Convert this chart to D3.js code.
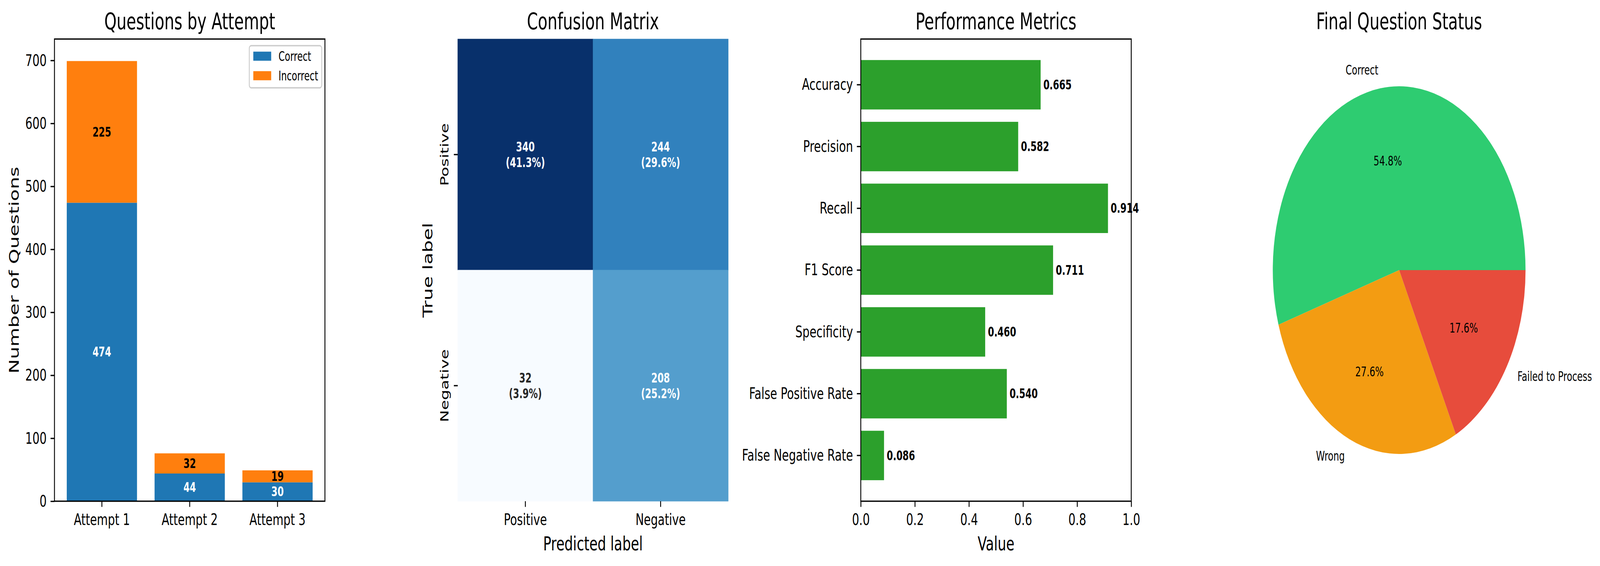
<!DOCTYPE html>
<html>
<head>
<meta charset="utf-8">
<script src="https://cdn.jsdelivr.net/npm/d3@7"></script>
<style>
  html, body { margin: 0; padding: 0; background: #fff; overflow: hidden; }
  svg { display: block; font-family: "DejaVu Sans", sans-serif; width: 100vw; height: 100vh; }
</style>
</head>
<body>
<svg id="chart" viewBox="0 0 5963 1450" preserveAspectRatio="none"></svg>
<script>
// ---------------- DATA ----------------
const attempts = ["Attempt 1", "Attempt 2", "Attempt 3"];
const correctCounts = [474, 44, 30];
const incorrectCounts = [225, 32, 19];
const barYTicks = [0, 100, 200, 300, 400, 500, 600, 700];
const seriesNames = ["Correct", "Incorrect"];

const cmLabels = ["Positive", "Negative"];
const cmRowPositive = [340, 244];
const cmRowNegative = [32, 208];

const metricNames = ["Accuracy", "Precision", "Recall", "F1 Score", "Specificity", "False Positive Rate", "False Negative Rate"];
const metricValues = [0.665, 0.582, 0.914, 0.711, 0.460, 0.540, 0.086];
const metricXTicks = [0, 0.2, 0.4, 0.6, 0.8, 1.0];

const pieLabels = ["Correct", "Wrong", "Failed to Process"];
const pieValues = [548, 276, 176];

// ---------------- STYLE ----------------
const FS_TICK = 41.67, FS_TITLE = 58.33, FS_LABEL = 50, FS_SMALL = 33.33;
const TICK_LEN = 14.58, TICK_W = 3.33, SPINE_W = 3.33;
const colCorrect = "#1f77b4", colIncorrect = "#ff7f0e", colMetric = "#2ca02c";
const pieColors = ["#2ecc71", "#f39c12", "#e74c3c"];
const bluesStops = ["#f7fbff", "#deebf7", "#c6dbef", "#9ecae1", "#6baed6", "#4292c6", "#2171b5", "#08519c", "#08306b"];

const AX_TOP = 100, AX_BOTTOM = 1284, AX_W = 1008;
const axLefts = [203, 1706, 3208, 4710.5];
const TITLE_BASE = 75;

const svg = d3.select("#chart");

function styleAxis(g) {
  g.select(".domain").remove();
  g.selectAll(".tick line").attr("stroke", "#000").attr("stroke-width", TICK_W);
  g.selectAll(".tick text").attr("fill", "#000").style("font-size", FS_TICK + "px").style("font-family", "DejaVu Sans");
}
function title(x, t) {
  svg.append("text").attr("x", x).attr("y", TITLE_BASE).attr("text-anchor", "middle")
    .style("font-size", FS_TITLE + "px").text(t);
}
function spines(x0) {
  svg.append("rect").attr("x", x0).attr("y", AX_TOP).attr("width", AX_W).attr("height", AX_BOTTOM - AX_TOP)
    .attr("fill", "none").attr("stroke", "#000").attr("stroke-width", SPINE_W);
}

// ================= 1. Questions by Attempt =================
{
  const L = axLefts[0];
  const x = d3.scaleBand().domain(attempts).range([L, L + AX_W]).paddingInner(0.2).paddingOuter(0.14);
  const totals = attempts.map((_, i) => correctCounts[i] + incorrectCounts[i]);
  const y = d3.scaleLinear().domain([0, d3.max(totals) * 1.05]).range([AX_BOTTOM, AX_TOP]);

  const g = svg.append("g");
  g.selectAll("rect.c").data(attempts).join("rect")
    .attr("x", d => x(d)).attr("width", x.bandwidth())
    .attr("y", (d, i) => y(correctCounts[i])).attr("height", (d, i) => y(0) - y(correctCounts[i]))
    .attr("fill", colCorrect);
  g.selectAll("rect.i").data(attempts).join("rect")
    .attr("x", d => x(d)).attr("width", x.bandwidth())
    .attr("y", (d, i) => y(correctCounts[i] + incorrectCounts[i]))
    .attr("height", (d, i) => y(correctCounts[i]) - y(correctCounts[i] + incorrectCounts[i]))
    .attr("fill", colIncorrect);
  g.selectAll("text.c").data(attempts).join("text")
    .attr("x", d => x(d) + x.bandwidth() / 2).attr("y", (d, i) => y(correctCounts[i] / 2))
    .attr("text-anchor", "middle").attr("dominant-baseline", "central")
    .style("font-size", FS_SMALL + "px").style("font-weight", "bold").attr("fill", "#fff")
    .text((d, i) => correctCounts[i]);
  g.selectAll("text.i").data(attempts).join("text")
    .attr("x", d => x(d) + x.bandwidth() / 2).attr("y", (d, i) => y(correctCounts[i] + incorrectCounts[i] / 2))
    .attr("text-anchor", "middle").attr("dominant-baseline", "central")
    .style("font-size", FS_SMALL + "px").style("font-weight", "bold").attr("fill", "#000")
    .text((d, i) => incorrectCounts[i]);

  svg.append("g").attr("transform", `translate(${L},0)`)
    .call(d3.axisLeft(y).tickValues(barYTicks).tickSize(TICK_LEN).tickPadding(TICK_LEN))
    .call(styleAxis);
  svg.append("g").attr("transform", `translate(0,${AX_BOTTOM})`)
    .call(d3.axisBottom(x).tickSize(TICK_LEN).tickPadding(TICK_LEN))
    .call(styleAxis)
    .call(gg => gg.selectAll(".tick text").attr("dy", "0.76em"));
  spines(L);

  svg.append("text").attr("transform", `translate(52,${(AX_TOP + AX_BOTTOM) / 2}) rotate(-90)`)
    .attr("text-anchor", "middle").attr("dominant-baseline", "central")
    .style("font-size", FS_LABEL + "px").text("Number of Questions");
  title(L + AX_W / 2, "Questions by Attempt");

  // legend
  const lg = svg.append("g");
  const frame = lg.append("rect");
  const rowY = [144, 194];
  const colors = [colCorrect, colIncorrect];
  let maxW = 0;
  seriesNames.forEach((s, i) => {
    lg.append("rect").attr("x", 944).attr("y", rowY[i] - 11.7).attr("width", 66.7).attr("height", 23.3).attr("fill", colors[i]);
    const t = lg.append("text").attr("x", 1038).attr("y", rowY[i]).attr("dominant-baseline", "central")
      .style("font-size", FS_SMALL + "px").text(s);
    maxW = Math.max(maxW, t.node().getComputedTextLength());
  });
  const fx0 = 929, fx1 = 1038 + maxW + 13.3;
  frame.attr("x", fx0).attr("y", 117).attr("width", fx1 - fx0).attr("height", 108)
    .attr("rx", 7).attr("fill", "#fff").attr("fill-opacity", 0.8).attr("stroke", "#cccccc").attr("stroke-width", 3.3);
}

// ================= 2. Confusion Matrix =================
{
  const L = axLefts[1];
  const x = d3.scaleBand().domain(cmLabels).range([L, L + AX_W]);
  const y = d3.scaleBand().domain(cmLabels).range([AX_TOP, AX_BOTTOM]);
  const rows = [cmRowPositive, cmRowNegative];
  const cells = [];
  rows.forEach((r, i) => r.forEach((v, j) => cells.push({ row: cmLabels[i], col: cmLabels[j], v })));
  const total = d3.sum(cells, d => d.v);
  const vmin = d3.min(cells, d => d.v), vmax = d3.max(cells, d => d.v);
  const color = d3.scaleLinear()
    .domain(bluesStops.map((_, k) => vmin + (vmax - vmin) * k / (bluesStops.length - 1)))
    .range(bluesStops).interpolate(d3.interpolateRgb);
  function lum(c) {
    const rgb = d3.rgb(c);
    const f = u => { u /= 255; return u <= 0.03928 ? u / 12.92 : Math.pow((u + 0.055) / 1.055, 2.4); };
    return 0.2126 * f(rgb.r) + 0.7152 * f(rgb.g) + 0.0722 * f(rgb.b);
  }
  const g = svg.append("g");
  g.selectAll("rect").data(cells).join("rect")
    .attr("x", d => x(d.col)).attr("y", d => y(d.row))
    .attr("width", x.bandwidth()).attr("height", y.bandwidth())
    .attr("fill", d => color(d.v)).attr("stroke", d => color(d.v)).attr("stroke-width", 1);
  const tx = g.selectAll("text").data(cells).join("text")
    .attr("text-anchor", "middle")
    .style("font-size", FS_SMALL + "px").style("font-weight", "bold")
    .attr("fill", d => lum(color(d.v)) > 0.408 ? "#262626" : "#ffffff");
  tx.append("tspan").attr("x", d => x(d.col) + x.bandwidth() / 2)
    .attr("y", d => y(d.row) + y.bandwidth() / 2 - 20).attr("dominant-baseline", "central").text(d => d.v);
  tx.append("tspan").attr("x", d => x(d.col) + x.bandwidth() / 2)
    .attr("y", d => y(d.row) + y.bandwidth() / 2 + 20).attr("dominant-baseline", "central")
    .text(d => `(${(d.v / total * 100).toFixed(1)}%)`);

  svg.append("g").attr("transform", `translate(0,${AX_BOTTOM})`)
    .call(d3.axisBottom(x).tickSize(TICK_LEN).tickPadding(TICK_LEN))
    .call(styleAxis)
    .call(gg => gg.selectAll(".tick text").attr("dy", "0.76em"));
  svg.append("g").attr("transform", `translate(${L},0)`)
    .call(d3.axisLeft(y).tickSize(TICK_LEN).tickFormat(""))
    .call(styleAxis);
  svg.append("g").selectAll("text").data(cmLabels).join("text")
    .attr("transform", d => `translate(${L - 2 * TICK_LEN - FS_TICK / 2},${y(d) + y.bandwidth() / 2}) rotate(-90)`)
    .attr("text-anchor", "middle").attr("dominant-baseline", "central")
    .style("font-size", FS_TICK + "px").text(d => d);

  svg.append("text").attr("x", L + AX_W / 2).attr("y", 1410).attr("text-anchor", "middle")
    .style("font-size", FS_LABEL + "px").text("Predicted label");
  svg.append("text").attr("transform", `translate(1594,${(AX_TOP + AX_BOTTOM) / 2}) rotate(-90)`)
    .attr("text-anchor", "middle").attr("dominant-baseline", "central")
    .style("font-size", FS_LABEL + "px").text("True label");
  title(L + AX_W / 2, "Confusion Matrix");
}

// ================= 3. Performance Metrics =================
{
  const L = axLefts[2];
  const x = d3.scaleLinear().domain([0, 1]).range([L, L + AX_W]);
  const y = d3.scaleBand().domain(metricNames).range([AX_TOP, AX_BOTTOM]).paddingInner(0.2).paddingOuter(0.34);
  const g = svg.append("g");
  g.selectAll("rect").data(metricNames).join("rect")
    .attr("x", x(0)).attr("y", d => y(d)).attr("height", y.bandwidth())
    .attr("width", (d, i) => x(metricValues[i]) - x(0)).attr("fill", colMetric);
  g.selectAll("text").data(metricNames).join("text")
    .attr("x", (d, i) => x(metricValues[i] + 0.01)).attr("y", d => y(d) + y.bandwidth() / 2)
    .attr("dominant-baseline", "central")
    .style("font-size", FS_SMALL + "px").style("font-weight", "bold")
    .text((d, i) => metricValues[i].toFixed(3));

  svg.append("g").attr("transform", `translate(0,${AX_BOTTOM})`)
    .call(d3.axisBottom(x).tickValues(metricXTicks).tickFormat(d3.format(".1f")).tickSize(TICK_LEN).tickPadding(TICK_LEN))
    .call(styleAxis)
    .call(gg => gg.selectAll(".tick text").attr("dy", "0.76em"));
  svg.append("g").attr("transform", `translate(${L},0)`)
    .call(d3.axisLeft(y).tickSize(TICK_LEN).tickPadding(TICK_LEN))
    .call(styleAxis);
  spines(L);
  svg.append("text").attr("x", L + AX_W / 2).attr("y", 1410).attr("text-anchor", "middle")
    .style("font-size", FS_LABEL + "px").text("Value");
  title(L + AX_W / 2, "Performance Metrics");
}

// ================= 4. Final Question Status =================
{
  const cx = 5214.5, cy = 692, R = 471;
  const pie = d3.pie().sort(null).value(d => d).startAngle(Math.PI / 2).endAngle(Math.PI / 2 - 2 * Math.PI);
  const arcs = pie(pieValues);
  const arc = d3.arc().innerRadius(0).outerRadius(R);
  const total = d3.sum(pieValues);
  const g = svg.append("g").attr("transform", `translate(${cx},${cy})`);
  g.selectAll("path").data(arcs).join("path").attr("d", arc).attr("fill", (d, i) => pieColors[i]);
  const mid = d => (d.startAngle + d.endAngle) / 2;
  g.selectAll("text.pct").data(arcs).join("text")
    .attr("x", d => 0.6 * R * Math.sin(mid(d))).attr("y", d => -0.6 * R * Math.cos(mid(d)))
    .attr("text-anchor", "middle").attr("dominant-baseline", "central")
    .style("font-size", FS_SMALL + "px")
    .text(d => (d.value / total * 100).toFixed(1) + "%");
  g.selectAll("text.lbl").data(arcs).join("text")
    .attr("x", d => 1.1 * R * Math.sin(mid(d))).attr("y", d => -1.1 * R * Math.cos(mid(d)))
    .attr("text-anchor", d => Math.sin(mid(d)) < 0 ? "end" : "start").attr("dominant-baseline", "central")
    .style("font-size", FS_SMALL + "px")
    .text((d, i) => pieLabels[i]);
  title(cx, "Final Question Status");
}
</script>
</body>
</html>
